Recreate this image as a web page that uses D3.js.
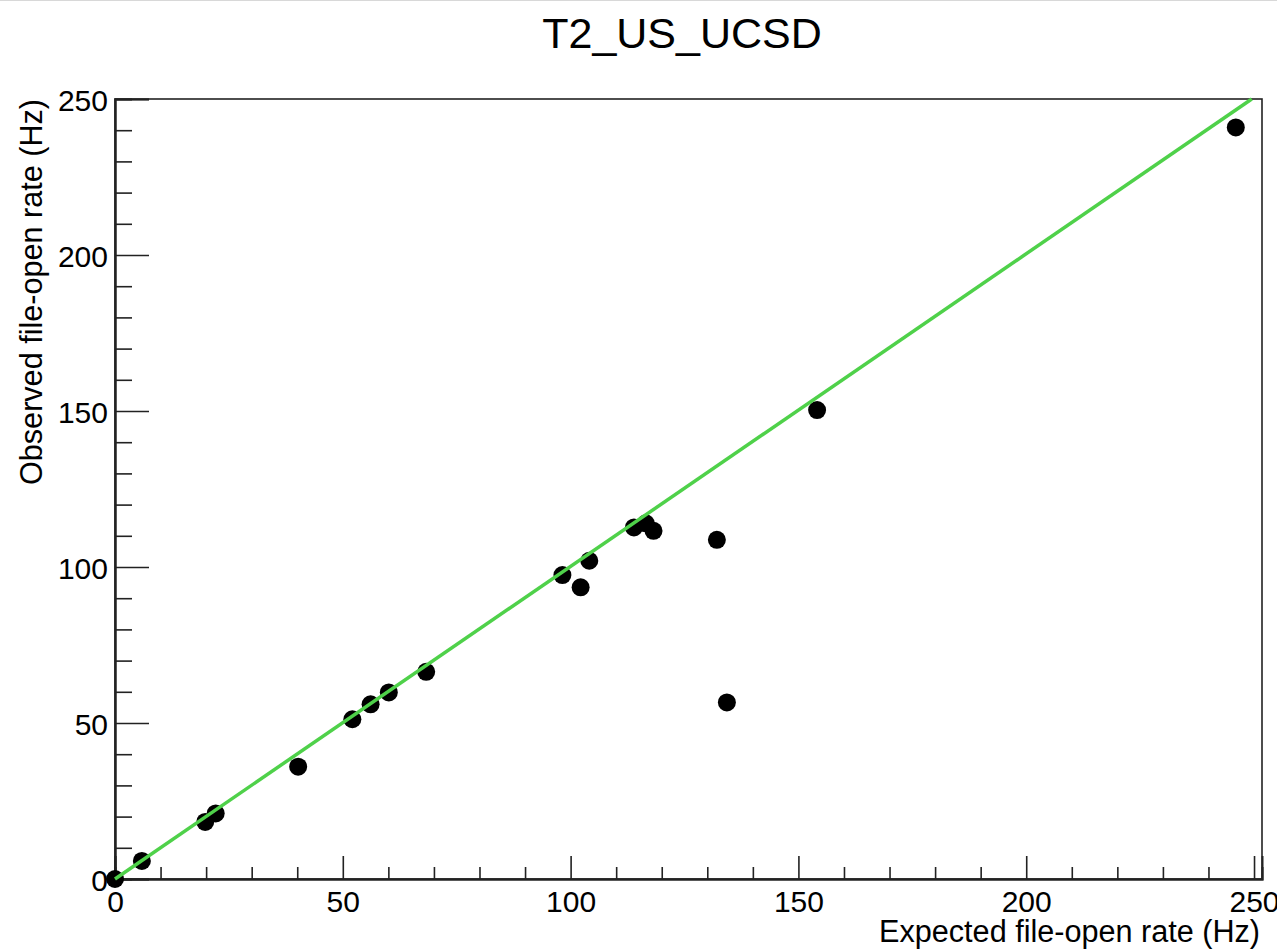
<!DOCTYPE html>
<html>
<head>
<meta charset="utf-8">
<script src="https://cdn.jsdelivr.net/npm/d3@7"></script>
<style>
  body { margin: 0; background: #fff; }
  svg { display: block; }
  text { font-family: "Liberation Sans", Arial, Helvetica, sans-serif; fill: #000; }
</style>
</head>
<body>
<div id="chart"></div>
<script>
// data
var expectedRate = [0, 5.9, 19.8, 22.1, 40.2, 52.1, 56.1, 60.1, 68.3, 98.2, 102.2, 104.1, 113.9, 116.5, 118.2, 132.1, 134.3, 154.1, 246.0];
var observedRate = [0, 5.8, 18.3, 21.0, 36.0, 51.2, 56.0, 59.8, 66.4, 97.4, 93.5, 102.0, 112.7, 114.0, 111.6, 108.7, 56.6, 150.3, 240.9];
var majorTicks = [0, 50, 100, 150, 200, 250];
var minorTicks = [10, 20, 30, 40, 60, 70, 80, 90, 110, 120, 130, 140, 160, 170, 180, 190, 210, 220, 230, 240];
var fitSlope = 1.002;
var fitIntercept = 0;

(function () {

    var W = 1277, H = 949;
    var frame = { left: 115, right: 1262, top: 99, bottom: 879 };

    var svg = d3.select("#chart")
        .append("svg")
        .attr("width", W)
        .attr("height", H);

    // thin grey line at the very top of the canvas
    svg.append("line")
        .attr("x1", 0).attr("x2", W)
        .attr("y1", 0.5).attr("y2", 0.5)
        .style("stroke", "#d8d8d8")
        .style("stroke-width", 1);

    var x = d3.scaleLinear()
        .domain([0, 251.75])
        .range([frame.left, frame.right]);

    var y = d3.scaleLinear()
        .domain([0, 250])
        .range([frame.bottom, frame.top]);

    // frame
    svg.append("rect")
        .attr("x", frame.left)
        .attr("y", frame.top)
        .attr("width", frame.right - frame.left)
        .attr("height", frame.bottom - frame.top)
        .style("fill", "none")
        .style("stroke", "#222")
        .style("stroke-width", 1.6);

    // X axis: ticks point inward
    var xAxis = svg.append("g")
        .attr("transform", "translate(0," + frame.bottom + ")")
        .call(d3.axisBottom(x).tickValues(majorTicks).tickSize(-23).tickPadding(33).tickFormat(d3.format("d")));

    svg.append("g")
        .attr("transform", "translate(0," + frame.bottom + ")")
        .call(d3.axisBottom(x).tickValues(minorTicks).tickSize(-12).tickFormat(""));

    // Y axis
    var yAxis = svg.append("g")
        .attr("transform", "translate(" + frame.left + ",0)")
        .call(d3.axisLeft(y).tickValues(majorTicks).tickSize(-34).tickPadding(7).tickFormat(d3.format("d")));

    svg.append("g")
        .attr("transform", "translate(" + frame.left + ",0)")
        .call(d3.axisLeft(y).tickValues(minorTicks).tickSize(-17).tickFormat(""));

    svg.selectAll(".domain")
        .style("stroke", "#222")
        .style("stroke-width", 2);

    svg.selectAll(".tick line")
        .style("stroke", "#222")
        .style("stroke-width", 1.6);

    svg.selectAll(".tick text")
        .style("font-size", "30px")
        .style("fill", "#000");

    xAxis.selectAll(".tick text").attr("dy", "0");
    yAxis.selectAll(".tick text").attr("dy", "0.38em");

    // title
    svg.append("text")
        .attr("x", 682)
        .attr("y", 48)
        .attr("text-anchor", "middle")
        .style("font-size", "43px")
        .text("T2_US_UCSD");

    // X axis label
    svg.append("text")
        .attr("x", 1260)
        .attr("y", 942)
        .attr("text-anchor", "end")
        .style("font-size", "30.6px")
        .text("Expected file-open rate (Hz)");

    // Y axis label
    svg.append("text")
        .attr("transform", "translate(42," + frame.top + ") rotate(-90)")
        .attr("text-anchor", "end")
        .style("font-size", "30.6px")
        .text("Observed file-open rate (Hz)");

    // points
    var points = expectedRate.map(function (d, i) { return { ex: d, ob: observedRate[i] }; });

    svg.append("g")
        .selectAll("circle")
        .data(points)
        .enter()
        .append("circle")
        .attr("cx", function (d) { return x(d.ex); })
        .attr("cy", function (d) { return y(d.ob); })
        .attr("r", 9)
        .style("fill", "#000");

    // fit line y = a*x + b, drawn until it reaches the top of the frame
    var xEnd = (250 - fitIntercept) / fitSlope;
    var fitLine = d3.line()
        .x(function (d) { return x(d); })
        .y(function (d) { return y(fitSlope * d + fitIntercept); });

    svg.append("path")
        .datum([0, xEnd])
        .attr("d", fitLine)
        .style("fill", "none")
        .style("stroke", "#4fd14a")
        .style("stroke-width", 3.5);

})();
</script>
</body>
</html>
